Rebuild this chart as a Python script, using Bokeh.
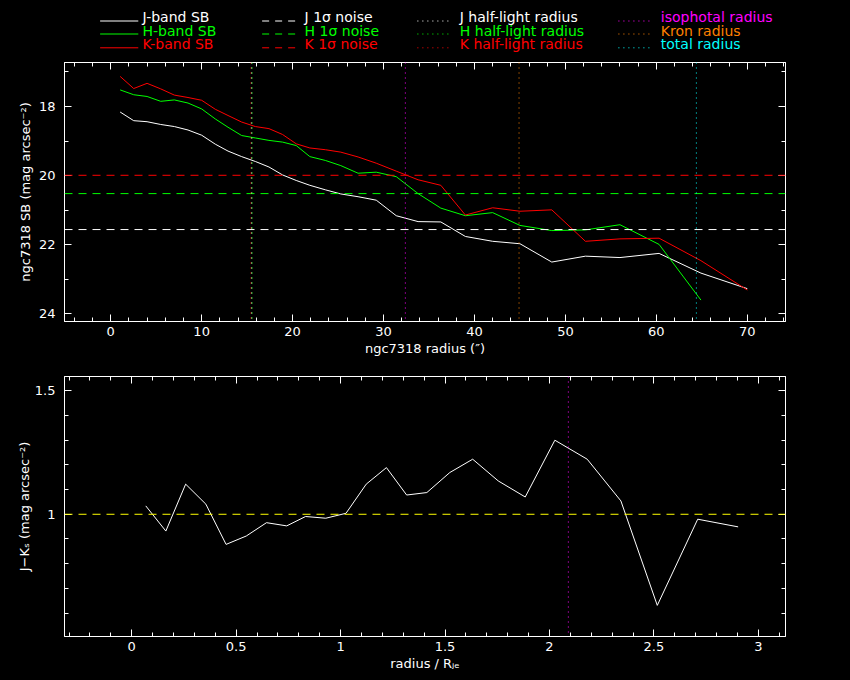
from bokeh.plotting import figure
from bokeh.models import Range1d, Span, LinearAxis, SingleIntervalTicker, CustomJSTickFormatter
from bokeh.layouts import column
from bokeh.core.properties import value
from bokeh.embed import file_html
from bokeh.resources import INLINE

# ---------------- data ----------------
radius = [1.04, 2.53, 4.0, 5.5, 7.0, 8.5, 10.0, 11.5, 12.9, 14.4, 15.9, 17.4, 18.9,
          20.4, 21.9, 23.6, 25.3, 27.2, 29.2, 31.4, 33.8, 36.3, 39.0, 42.0, 45.0,
          48.5, 52.2, 56.0, 60.3, 64.9, 70.0]
j_sb = [18.16, 18.41, 18.44, 18.52, 18.58, 18.68, 18.83, 19.09, 19.29, 19.45, 19.59,
        19.75, 19.98, 20.14, 20.28, 20.41, 20.53, 20.61, 20.71, 21.16, 21.33, 21.34,
        21.76, 21.90, 21.97, 22.50, 22.33, 22.37, 22.25, 22.82, 23.27]
h_sb = [17.52, 17.66, 17.71, 17.85, 17.81, 17.90, 18.07, 18.36, 18.60, 18.84, 18.91,
        18.98, 19.03, 19.13, 19.45, 19.56, 19.71, 19.93, 19.90, 20.03, 20.52, 20.94,
        21.16, 21.07, 21.44, 21.59, 21.57, 21.42, 21.99, 23.60]
k_sb = [17.13, 17.48, 17.33, 17.49, 17.67, 17.74, 17.82, 18.08, 18.26, 18.45, 18.58,
        18.64, 18.81, 19.08, 19.20, 19.25, 19.32, 19.46, 19.64, 19.87, 20.12, 20.28,
        21.14, 20.93, 21.03, 20.99, 21.90, 21.83, 21.81, 22.46, 23.31]
jk_color = [1.034, 0.932, 1.122, 1.041, 0.878, 0.912, 0.966, 0.953, 0.991, 0.984,
            1.004, 1.122, 1.189, 1.078, 1.088, 1.169, 1.223, 1.135, 1.070, 1.300,
            1.223, 1.054, 0.631, 0.980, 0.949]
noise_j, noise_h, noise_k = 21.56, 20.52, 19.99
half_j, half_h, half_k = 15.5, 15.55, 15.42
iso_radius, kron_radius, total_radius = 32.4, 44.9, 64.4
jk_reference = 1.0

WHITE, GREEN, RED = "#ffffff", "#00ff00", "#ff0000"
MAGENTA, ORANGE, CYAN, YELLOW = "#ff00ff", "#ff8000", "#00ffff", "#ffff00"
FONT = "DejaVu Sans"

key_labels = [["J-band SB", "H-band SB", "K-band SB"],
              ["J 1σ noise", "H 1σ noise", "K 1σ noise"],
              ["J half-light radius", "H half-light radius", "K half-light radius"],
              ["isophotal radius", "Kron radius", "total radius"]]
key_colors = [[WHITE, GREEN, RED], [WHITE, GREEN, RED], [WHITE, GREEN, RED],
              [MAGENTA, ORANGE, CYAN]]
key_dashes = ["solid", "7 6", "1 4", "1 4"]

# layout (style) values for the key, in page pixels
key_x0 = [42, 233, 416, 653]
key_x1 = [87, 275, 456, 693]
key_tx = [92, 283, 466, 703]
key_ly = [33.5, 20.5, 6.7]
key_ty = [37.3, 23.5, 10.2]

W = 850

# ---------------- key ----------------
key = figure(width=W, height=54, output_backend="svg", toolbar_location=None,
             x_range=Range1d(0, W), y_range=Range1d(0, 54),
             x_axis_type=None, y_axis_type=None,
             min_border_left=0, min_border_right=0, min_border_top=0, min_border_bottom=0,
             background_fill_color="black", border_fill_color="black", outline_line_color=None)
key.grid.visible = False
for c in range(4):
    key.segment(x0=[key_x0[c]] * 3, x1=[key_x1[c]] * 3, y0=key_ly, y1=key_ly,
                line_color=key_colors[c], line_width=1, line_dash=key_dashes[c])
    key.text(x=[key_tx[c]] * 3, y=key_ty, text=key_labels[c], text_color=key_colors[c],
             text_font=value(FONT), text_font_size="14px", text_baseline="middle",
             text_align="left")


def style_axis(ax, show, ticker, standoff=5, formatter=None):
    ax.ticker = ticker
    if formatter is not None:
        ax.formatter = formatter
    ax.axis_line_color = "white"
    ax.major_tick_line_color = "white"
    ax.minor_tick_line_color = "white"
    ax.major_tick_in = 7
    ax.major_tick_out = 0
    ax.minor_tick_in = 4
    ax.minor_tick_out = 0
    ax.major_label_text_font = FONT
    if show:
        ax.major_label_text_color = "white"
        ax.major_label_text_font_size = "13px"
        ax.major_label_standoff = standoff
    else:
        ax.major_label_text_color = None
        ax.major_label_text_font_size = "1px"
        ax.major_label_standoff = 0
    ax.axis_label_text_color = "white"
    ax.axis_label_text_font = FONT
    ax.axis_label_text_font_size = "13px"
    ax.axis_label_text_font_style = "normal"


def base_fig(height, xr, yr, top, bottom):
    f = figure(width=W, height=height, output_backend="svg", toolbar_location=None,
               x_range=xr, y_range=yr,
               min_border_left=64, min_border_right=65, min_border_top=top,
               min_border_bottom=bottom,
               background_fill_color="black", border_fill_color="black",
               outline_line_color="white")
    f.grid.visible = False
    return f


# ---------------- top panel ----------------
p1 = base_fig(314, Range1d(-5.08, 74.2), Range1d(24.22, 16.727), 8, 47)
tx1 = SingleIntervalTicker(interval=10, num_minor_ticks=5)
ty1 = SingleIntervalTicker(interval=2, num_minor_ticks=2)
style_axis(p1.xaxis[0], True, tx1, standoff=5)
style_axis(p1.yaxis[0], True, ty1, standoff=9)
p1.xaxis[0].axis_label = "ngc7318 radius (″)"
p1.xaxis[0].axis_label_standoff = 2
p1.yaxis[0].axis_label = "ngc7318 SB (mag arcsec⁻²)"
p1.yaxis[0].axis_label_standoff = 3
a_top = LinearAxis()
style_axis(a_top, False, tx1)
p1.add_layout(a_top, "above")
a_right = LinearAxis()
style_axis(a_right, False, ty1)
p1.add_layout(a_right, "right")

for loc, col in [(noise_j, WHITE), (noise_h, GREEN), (noise_k, RED)]:
    p1.add_layout(Span(location=loc, dimension="width", line_color=col,
                       line_width=1, line_dash="8 6"))
for loc, col in [(half_k, RED), (half_j, WHITE), (half_h, GREEN),
                 (iso_radius, MAGENTA), (kron_radius, ORANGE), (total_radius, CYAN)]:
    p1.add_layout(Span(location=loc, dimension="height", line_color=col,
                       line_width=1, line_dash="1 4"))

p1.line(radius, j_sb, line_color=WHITE, line_width=1)
p1.line(radius[:len(h_sb)], h_sb, line_color=GREEN, line_width=1)
p1.line(radius, k_sb, line_color=RED, line_width=1)

# ---------------- bottom panel ----------------
fmt = CustomJSTickFormatter(code="return String(Math.round(tick * 10) / 10);")
p2 = base_fig(312, Range1d(-0.322, 3.13), Range1d(0.505, 1.558), 8, 44)
tx2 = SingleIntervalTicker(interval=0.5, num_minor_ticks=5)
ty2 = SingleIntervalTicker(interval=0.5, num_minor_ticks=5)
style_axis(p2.xaxis[0], True, tx2, standoff=5, formatter=fmt)
style_axis(p2.yaxis[0], True, ty2, standoff=9, formatter=fmt)
p2.xaxis[0].axis_label = "radius / Rⱼₑ"
p2.xaxis[0].axis_label_standoff = 2
p2.yaxis[0].axis_label = "J−Kₛ (mag arcsec⁻²)"
p2.yaxis[0].axis_label_standoff = 0
b_top = LinearAxis()
style_axis(b_top, False, tx2)
p2.add_layout(b_top, "above")
b_right = LinearAxis()
style_axis(b_right, False, ty2)
p2.add_layout(b_right, "right")

p2.add_layout(Span(location=jk_reference, dimension="width", line_color=YELLOW,
                   line_width=1, line_dash="8 6"))
p2.add_layout(Span(location=iso_radius / half_j, dimension="height", line_color=MAGENTA,
                   line_width=1, line_dash="1 4"))
jk_x = [r / half_j for r in radius[:len(jk_color)]]
p2.line(jk_x, jk_color, line_color=WHITE, line_width=1)

layout = column(key, p1, p2, spacing=0)
html = file_html(layout, INLINE, title="ngc7318 profiles")
html = html.replace("</head>", "<style>html, body { background: #000000; }</style></head>", 1)
open("out.html", "w").write(html)
